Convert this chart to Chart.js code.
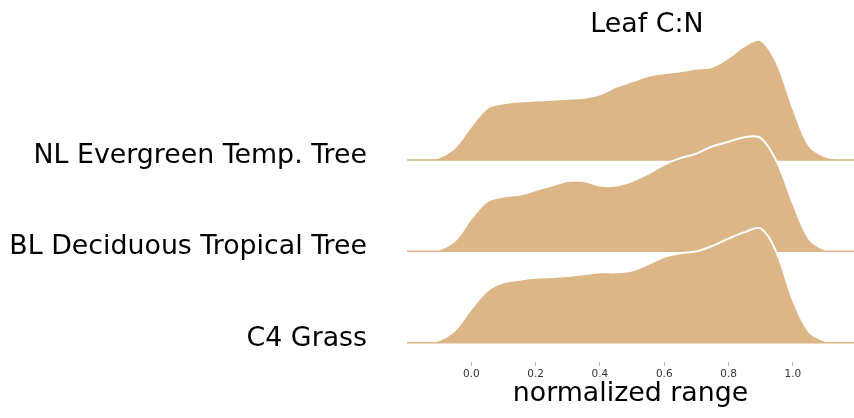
<!DOCTYPE html>
<html>
<head>
<meta charset="utf-8">
<script src="https://cdn.jsdelivr.net/npm/chart.js@4"></script>
<style>
  html, body { margin: 0; padding: 0; background: #fff; }
  #wrap { width: 854px; height: 418px; }
</style>
</head>
<body>
<div id="wrap"><canvas id="ridgeChart" width="854" height="418"></canvas></div>
<script>
// row labels, top to bottom
const rowLabels = ['NL Evergreen Temp. Tree', 'BL Deciduous Tropical Tree', 'C4 Grass'];

// x positions of the density estimates (normalized range)
const xGrid = [-0.2, -0.15, -0.1, -0.05, 0, 0.05, 0.1, 0.15, 0.2, 0.25, 0.3, 0.35, 0.4, 0.45,
  0.5, 0.55, 0.6, 0.65, 0.7, 0.75, 0.8, 0.85, 0.9, 0.95, 1.0, 1.05, 1.1, 1.15, 1.2];

// density
const nlEvergreen = [0, 0.005, 0.03, 0.14, 0.37, 0.57, 0.62, 0.64, 0.65, 0.66, 0.67, 0.68, 0.72, 0.80,
  0.86, 0.92, 0.95, 0.97, 1.00, 1.02, 1.12, 1.25, 1.31, 1.06, 0.57, 0.16, 0.04, 0.01, 0];
const blDeciduous = [0, 0.003, 0.02, 0.12, 0.36, 0.55, 0.60, 0.62, 0.67, 0.72, 0.77, 0.77, 0.72, 0.72,
  0.77, 0.85, 0.95, 1.02, 1.07, 1.15, 1.20, 1.25, 1.24, 0.98, 0.53, 0.14, 0.02, 0.003, 0];
const c4Grass = [0, 0.004, 0.03, 0.14, 0.37, 0.57, 0.66, 0.69, 0.71, 0.72, 0.73, 0.75, 0.77, 0.77,
  0.79, 0.86, 0.94, 0.98, 1.00, 1.06, 1.14, 1.21, 1.25, 0.98, 0.47, 0.12, 0.02, 0.003, 0];

const xTicks = [0, 0.2, 0.4, 0.6, 0.8, 1.0];
const chartTitle = 'Leaf C:N';
const xTitle = 'normalized range';

const FILL = '#dcb686';
const FONT = "'DejaVu Sans', 'Verdana', sans-serif";
const BIG = 26.8;
Chart.defaults.font.family = FONT;

// each ridge sits on its own row, lower rows drawn over upper ones
const series = [nlEvergreen, blDeciduous, c4Grass];
const datasets = [];
series.forEach((dens, i) => {
  const row = series.length - 1 - i;
  datasets.push({
    label: rowLabels[i],
    data: xGrid.map((x, j) => ({ x, y: row + dens[j] })),
    fill: { value: row },
    backgroundColor: FILL,
    borderColor: '#ffffff',
    borderWidth: 2,
    pointRadius: 0,
    tension: 0.35,
    order: (series.length - i) * 2
  });
  datasets.push({
    label: rowLabels[i] + ' baseline',
    data: [{ x: xGrid[0], y: row }, { x: xGrid[xGrid.length - 1], y: row }],
    fill: false,
    borderColor: FILL,
    borderWidth: 1.5,
    pointRadius: 0,
    order: (series.length - i) * 2 - 1
  });
});

// title over the ridges
const titlePlugin = {
  id: 'ridgeTitle',
  afterDraw(chart) {
    const { ctx } = chart;
    const x = chart.scales.x;
    ctx.save();
    ctx.font = BIG + 'px ' + FONT;
    ctx.fillStyle = '#000';
    ctx.textAlign = 'center';
    ctx.textBaseline = 'alphabetic';
    ctx.fillText(chartTitle, x.getPixelForValue(0.546), 32);
    ctx.restore();
  }
};

new Chart(document.getElementById('ridgeChart'), {
  type: 'line',
  data: { datasets },
  options: {
    responsive: false,
    animation: false,
    layout: { padding: { top: 34, right: 0, bottom: 0, left: 0 } },
    plugins: {
      legend: { display: false },
      tooltip: { enabled: false },
      title: { display: false }
    },
    scales: {
      x: {
        type: 'linear',
        min: -0.2,
        max: 1.19,
        afterBuildTicks: (s) => { s.ticks = xTicks.map(v => ({ value: v })); },
        afterFit: (s) => { s.height = 56; s.paddingLeft = 0; s.paddingRight = 0; },
        ticks: {
          font: { size: 10.5 },
          color: '#333',
          padding: 2,
          maxRotation: 0,
          callback: (v) => Number(v).toFixed(1)
        },
        grid: { drawOnChartArea: false, tickLength: 4, color: '#bbb' },
        border: { display: false },
        title: {
          display: true,
          text: xTitle,
          color: '#000',
          font: { size: BIG },
          padding: { top: 0, bottom: 8 }
        }
      },
      y: {
        type: 'linear',
        min: -0.211,
        max: 3.379,
        afterBuildTicks: (s) => { s.ticks = rowLabels.map((_, i) => ({ value: rowLabels.length - 1 - i })); },
        afterFit: (s) => { s.width = 407; s.paddingTop = 0; s.paddingBottom = 0; },
        ticks: {
          font: { size: BIG },
          color: '#000',
          padding: 40,
          labelOffset: -4,
          callback: (v) => rowLabels[rowLabels.length - 1 - v]
        },
        grid: { display: false, drawTicks: false },
        border: { display: false }
      }
    }
  },
  plugins: [titlePlugin]
});
</script>
</body>
</html>
